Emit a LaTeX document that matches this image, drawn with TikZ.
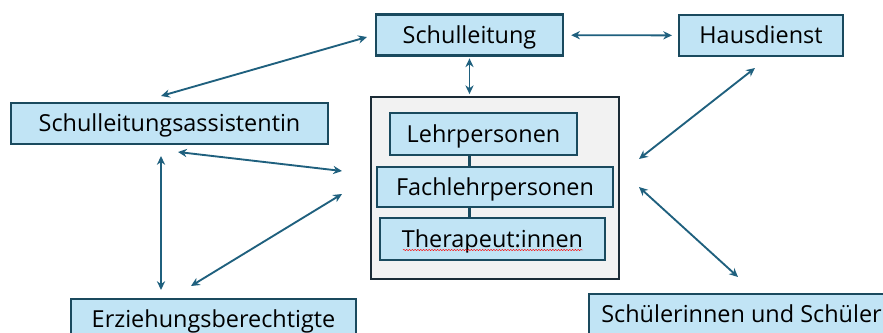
\documentclass[tikz,border=0pt]{standalone}
\usepackage{fontspec}
\setmainfont{Open Sans}
\usepackage{tikz}
\usetikzlibrary{arrows.meta, decorations.pathmorphing}
\definecolor{boxfill}{RGB}{193,228,245}
\definecolor{boxline}{RGB}{26,74,94}
\definecolor{pfeil}{RGB}{31,96,126}
\definecolor{teamfill}{RGB}{242,242,242}
\definecolor{teamline}{RGB}{27,43,54}
\tikzset{
  rolle/.style={draw=boxline, fill=boxfill, line width=1.9pt, inner sep=0pt,
    minimum height=1.23cm, text height=14.3pt, text depth=0pt,
    font=\fontsize{20}{24}\selectfont},
  verb/.style={{Stealth[length=7.5pt,width=7pt]}-{Stealth[length=7.5pt,width=7pt]},
    draw=pfeil, line width=1.6pt},
}

\begin{document}
\begin{tikzpicture}[x=0.03cm, y=-0.03cm]
  \useasboundingbox (0,0) rectangle (883,333);
  % team in the middle
  \node[draw=teamline, fill=teamfill, line width=1.9pt, minimum width=7.44cm, minimum height=5.46cm] (team) at (495,188) {};
  \node[rolle, minimum width=5.61cm, minimum height=1.26cm] (lehr) at (483.5,134) {Lehrpersonen};
  \node[rolle, minimum width=7.08cm, minimum height=1.2cm] (fach) at (495,187) {Fachlehrpersonen};
  \node[rolle, minimum width=6.75cm, minimum height=1.26cm] (thera) at (492.5,239) {Therapeut:innen};
  % roles around
  \node[rolle, minimum width=5.61cm] (sl) at (469.5,35) {Schulleitung};
  \node[rolle, minimum width=4.92cm] (haus) at (761,35.5) {Hausdienst};
  \node[rolle, minimum width=9.51cm] (sla) at (169.5,123.5) {Schulleitungsassistentin};
  \node[rolle, minimum width=8.55cm] (eb) at (213.5,319.5) {Erziehungsberechtigte};
  \node[rolle, minimum width=9.15cm] (sus) at (741.5,314.5) {Schülerinnen und Schüler};

  \draw[boxline, line width=1.9pt](lehr.south -| sl)--(fach.north -| sl);
  \draw[boxline, line width=1.9pt](fach.south -| sl)--(thera.north -| sl);
  \draw[red, thin, decorate, decoration={snake, amplitude=0.5pt, segment length=2.4pt}](403,250)--(583,250);

  % free ends of the arrows
  \coordinate (sl-a) at (367,37);   \coordinate (sla-a) at (161,96);
  \coordinate (sla-b) at (178,152); \coordinate (team-w1) at (342,171);
  \coordinate (sla-c) at (161,156); \coordinate (eb-a) at (161,290);
  \coordinate (eb-b) at (191,286);  \coordinate (team-w2) at (342,194);
  \coordinate (haus-a) at (755,68); \coordinate (team-e1) at (639,159);
  \coordinate (team-e2) at (639,187); \coordinate (sus-a) at (738,277);

  \draw[verb, shorten <=1.5pt, shorten >=1.5pt](sl.south)--(sl.south |- team.north);
  \draw[verb, shorten <=6pt, shorten >=5pt](sl)--(haus);
  \draw[verb](sl-a)--(sla-a);
  \draw[verb](sla-b)--(team-w1);
  \draw[verb](sla-c)--(eb-a);
  \draw[verb](eb-b)--(team-w2);
  \draw[verb](haus-a)--(team-e1);
  \draw[verb](team-e2)--(sus-a);
\end{tikzpicture}
\end{document}
